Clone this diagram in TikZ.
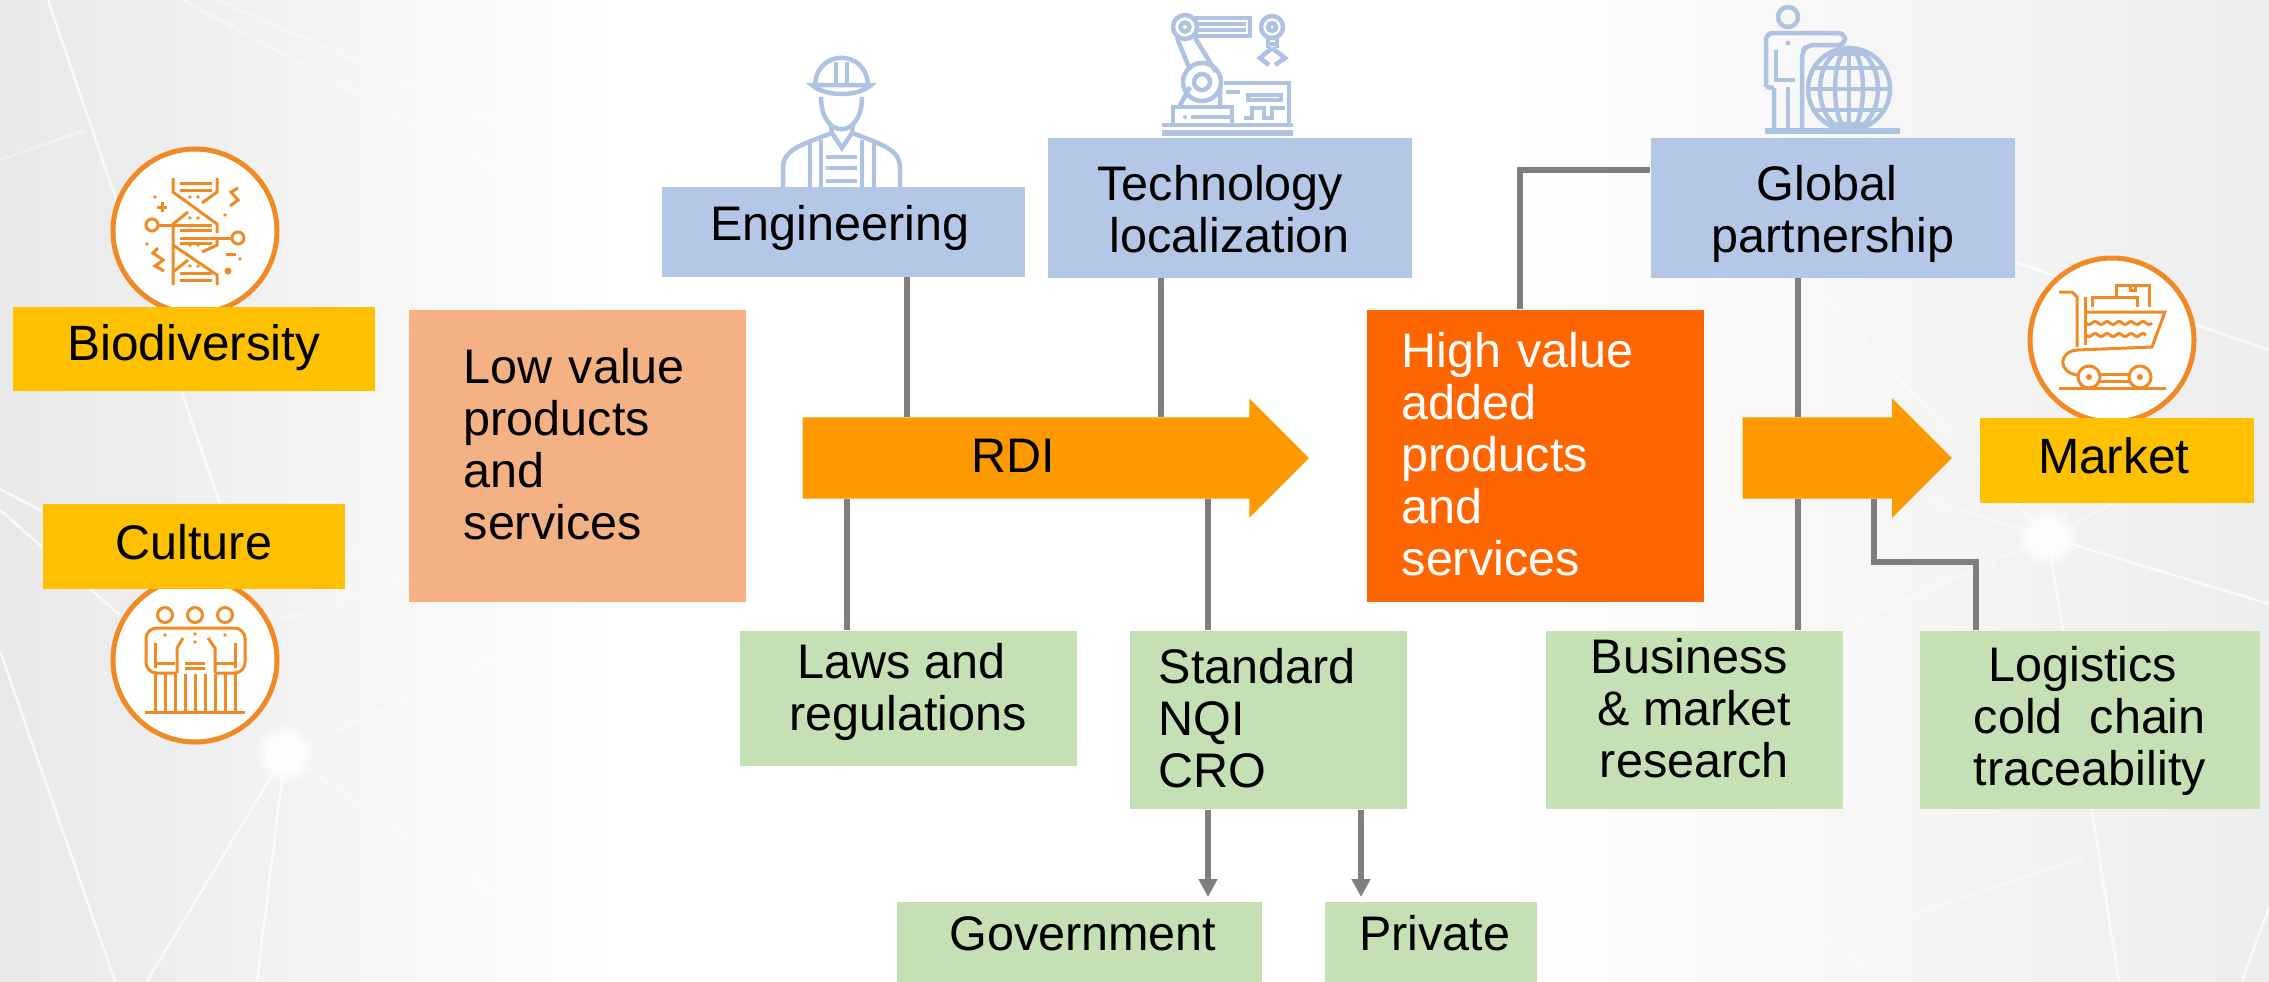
\documentclass[tikz,border=0pt]{standalone}
\usepackage{fontspec}
\setmainfont{Liberation Sans}
\usetikzlibrary{shapes.arrows, arrows.meta, positioning}

\definecolor{goldFill}{HTML}{FFC000}
\definecolor{blueFill}{HTML}{B4C7E7}
\definecolor{greenFill}{HTML}{C5E0B4}
\definecolor{lowFill}{HTML}{F4B183}
\definecolor{highFill}{HTML}{FF6600}
\definecolor{arrowFill}{HTML}{FF9900}
\definecolor{linkGray}{HTML}{7F7F7F}
\definecolor{iconOrange}{HTML}{F08A24}
\definecolor{iconBlue}{HTML}{AEC2E2}

\begin{document}
\begin{tikzpicture}[
      x=0.01cm, y=-0.01cm,
      font=\fontsize{13.8}{14.76}\selectfont,
      >=Stealth,
      block/.style n args={3}{rectangle, inner sep=0pt, align=center,
        minimum width=#1, text height=#2, text depth=#3},
      gold/.style    = {fill=goldFill},
      blue/.style    = {fill=blueFill},
      green/.style   = {fill=greenFill},
      flow/.style    = {single arrow, fill=arrowFill, inner sep=0pt,
        single arrow head extend=0.19cm, single arrow head indent=0pt,
        minimum width=1.18cm, anchor=tail},
      link/.style    = {draw=linkGray, line width=0.06cm},
      drop/.style    = {link, -{Triangle[length=0.18cm,width=0.18cm]},
        shorten >=0.04cm},
      ring/.style    = {draw=iconOrange, fill=white, line width=0.05cm},
      orangeIcon/.style = {draw=iconOrange, line width=0.03cm},
      blueIcon/.style   = {draw=iconBlue, line width=0.045cm},
      web/.style     = {draw=white, line width=0.025cm, opacity=0.7},
      faintWeb/.style = {draw=white, line width=0.03cm, opacity=0.35}
    ]

    % ---------------- background ----------------
    \useasboundingbox (0,0) rectangle (2269,981);
    \begin{scope}
      \clip (0,0) rectangle (2269,981);
      \fill[white] (0,0) rectangle (2269,981);
      \shade[left color=black!9, right color=white] (0,0) rectangle (620,981);
      \shade[left color=white, right color=black!7] (1500,0) rectangle (2269,981);
      \draw[web] (48,0) -- (222,510);
      \draw[web] (0,651) -- (115,981);
      \draw[web] (285,754) -- (147,981);
      \draw[web] (285,754) -- (257,981);
      \draw[faintWeb] (285,754) -- (625,981);
      \draw[faintWeb] (285,754) -- (620,600);
      \draw[faintWeb] (280,620) -- (406,578);
      \draw[faintWeb] (340,561) -- (400,524);
      \draw[web] (0,489) -- (42,511);
      \draw[web] (0,510) -- (120,615);
      \draw[faintWeb] (183,0) -- (520,182) -- (700,290);
      \draw[faintWeb] (217,0) -- (520,133);
      \draw[faintWeb] (0,160) -- (85,130);
      \draw[web] (2048,537) -- (2269,604);
      \draw[web] (2048,537) -- (2119,981);
      \draw[web] (2269,907) -- (2242,981);
      \draw[web] (2015,262) -- (2269,350);
      \draw[faintWeb] (2048,537) -- (1807,280);
      \draw[faintWeb] (2048,537) -- (1927,500);
      \draw[faintWeb] (2048,537) -- (2120,500);
      \draw[faintWeb] (2048,537) -- (1680,700);
      \draw[faintWeb] (1749,877) -- (1882,981);
      \draw[faintWeb] (2082,857) -- (1916,913);
      \foreach \glowX/\glowY in {285/754, 2048/537}{
        \fill[white, opacity=0.25] (\glowX,\glowY) circle (29);
        \fill[white, opacity=0.4] (\glowX,\glowY) circle (24);
        \fill[white, opacity=0.7] (\glowX,\glowY) circle (19);
      }
    \end{scope}

    % ---------------- orange icons ----------------
    \draw[ring] (195,231) circle (82);
    \draw[ring] (195,660) circle (82);
    \draw[ring] (2112,340) circle (82);

    % dna
    \draw[orangeIcon] (173,178) -- (173,192) -- (217,224) -- (217,233);
    \draw[orangeIcon] (217,178) -- (217,192) -- (202,203);
    \draw[orangeIcon] (188,212) -- (173,224) -- (173,285);
    \draw[orangeIcon] (173,245) -- (217,275) -- (217,285);
    \draw[orangeIcon] (217,238) -- (217,245) -- (202,252);
    \draw[orangeIcon] (188,260) -- (173,272);
    \foreach \rungY in {183,190,230,243,273,280}{
      \draw[orangeIcon] (180,\rungY) -- (212,\rungY);
    }
    \draw[orangeIcon] (158,225) -- (212,225);
    \draw[orangeIcon] (180,238) -- (232,238);
    \draw[orangeIcon] (152,225) circle (6);
    \draw[orangeIcon] (238,238) circle (6);
    \draw[orangeIcon] (157,207) -- (167,207) (162,202) -- (162,212);
    \draw[orangeIcon] (238,188) -- (231,192) -- (238,200) -- (230,206);
    \draw[orangeIcon] (158,248) -- (153,253) -- (163,260) -- (155,266) -- (164,271);
    \draw[orangeIcon] (226,254) -- (236,254);
    \foreach \dotX/\dotY in {190/197, 198/197, 190/218, 198/218, 190/245, 198/245,
      190/266, 198/266, 155/197, 225/215, 147/244, 240/259}{
      \fill[iconOrange] (\dotX,\dotY) circle (1.8);
    }
    \fill[iconOrange] (228,271) circle (3.5);

    % people
    \foreach \headX in {165,195,225}{
      \draw[orangeIcon] (\headX,615) circle (7.5);
    }
    \draw[orangeIcon, rounded corners=3pt] (177,673) -- (146,673) -- (146,628)
    -- (245,628) -- (245,673) -- (215,673);
    \draw[orangeIcon] (155,643) -- (155,668) (235,643) -- (235,668);
    \draw[orangeIcon] (155,663) -- (175,663) (215,663) -- (235,663);
    \draw[orangeIcon] (185,663) -- (205,663) (185,668) -- (205,668);
    \draw[orangeIcon] (177,673) -- (177,648) -- (183,638);
    \draw[orangeIcon] (215,673) -- (215,648) -- (208,638);
    \foreach \legX in {155,165,175,185,195,205,215,225,235}{
      \draw[orangeIcon] (\legX,674) -- (\legX,712);
    }
    \draw[orangeIcon] (145,712) -- (245,712);
    \foreach \dotX/\dotY in {165/635, 225/635, 195/634, 195/642}{
      \fill[iconOrange] (\dotX,\dotY) circle (1.8);
    }

    % cart
    \draw[orangeIcon] (2059,292) -- (2072,292) -- (2077,297) -- (2077,347);
    \draw[orangeIcon] (2085,312) -- (2165,312) -- (2152,347) -- (2077,350)
    .. controls (2058,352) and (2058,372) .. (2077,375);
    \draw[orangeIcon] (2085,297) -- (2085,345);
    \draw[orangeIcon] (2059,388) -- (2166,388);
    \draw[orangeIcon] (2089,377) circle (11);
    \draw[orangeIcon] (2140,377) circle (11);
    \fill[iconOrange] (2089,377) circle (3);
    \fill[iconOrange] (2140,377) circle (3);
    \draw[orangeIcon] (2100,374) -- (2129,374) (2100,381) -- (2129,381);
    \draw[orangeIcon] plot[domain=0:66, samples=40] ({2086+\x},{323+1.5*sin(\x*30)});
    \draw[orangeIcon] plot[domain=0:60, samples=40] ({2086+\x},{335+1.5*sin(\x*30)});
    \draw[orangeIcon] (2092,307) -- (2092,297) -- (2137,297) -- (2137,307);
    \draw[orangeIcon] (2116,297) -- (2116,285) -- (2149,285) -- (2149,307);
    \draw[orangeIcon] (2130,285) -- (2130,290) -- (2135,290) -- (2135,285);

    % ---------------- blue icons ----------------
    % engineer
    \draw[blueIcon] (815,87) .. controls (815,48) and (868,48) .. (868,87);
    \draw[blueIcon] (812,85) .. controls (825,97) and (858,97) .. (871,85) -- cycle;
    \draw[blueIcon] (836,62) -- (836,85) (847,62) -- (847,85);
    \draw[blueIcon] (821,97) .. controls (821,140) and (862,140) .. (862,97);
    \draw[blueIcon] (831,125) -- (832,133) -- (842,148) -- (852,133) -- (853,125);
    \draw[blueIcon] (832,133) .. controls (800,145) and (783,150) .. (783,168) -- (783,190);
    \draw[blueIcon] (852,133) .. controls (884,145) and (900,150) .. (900,168) -- (900,190);
    \foreach \vestX in {810,821,862,874}{
      \draw[blueIcon] (\vestX,140) -- (\vestX,190);
    }
    \foreach \vestY in {157,168,181}{
      \draw[blueIcon] (826,\vestY) -- (857,\vestY);
    }

    % robot
    \draw[blueIcon, line width=0.06cm] (1162,133) -- (1293,133);
    \draw[blueIcon] (1162,125) -- (1293,125);
    \draw[blueIcon] (1173,125) -- (1173,107) -- (1232,107) -- (1232,125);
    \draw[blueIcon] (1191,117) -- (1230,117);
    \fill[iconBlue] (1185,117) circle (2);
    \draw[blueIcon] (1224,83) -- (1289,83) -- (1289,125);
    \draw[blueIcon] (1226,92) -- (1240,92);
    \draw[blueIcon] (1248,95) rectangle (1281,100);
    \draw[blueIcon] (1244,118) -- (1252,118) -- (1252,108) -- (1264,108) -- (1264,118)
    -- (1272,118) -- (1272,108) -- (1285,108);
    \draw[blueIcon] (1202,82) circle (19);
    \draw[blueIcon] (1202,82) circle (8);
    \draw[blueIcon] (1179,107) -- (1190,87) (1220,107) -- (1220,88);
    \draw[blueIcon] (1177,38) -- (1190,70) (1195,38) -- (1216,72);
    \draw[blueIcon] (1185,27) circle (12);
    \draw[blueIcon] (1185,27) circle (4.5);
    \draw[blueIcon] (1195,18) -- (1250,18) -- (1250,36) -- (1195,36);
    \draw[blueIcon] (1197,24) -- (1246,24) (1197,30) -- (1246,30);
    \draw[blueIcon] (1272,27) circle (11);
    \draw[blueIcon] (1272,27) circle (4);
    \draw[blueIcon] (1268,38) -- (1268,48) (1277,38) -- (1277,48) (1268,44) -- (1277,44);
    \draw[blueIcon] (1272,48) -- (1260,58) -- (1269,65);
    \draw[blueIcon] (1272,48) -- (1285,58) -- (1275,65);

    % partner with globe
    \draw[blueIcon] (1788,17) circle (10);
    \draw[blueIcon, rounded corners=2pt] (1766,87) -- (1766,33) -- (1845,33) -- (1845,45)
    -- (1807,45) -- (1802,52) -- (1802,130);
    \draw[blueIcon] (1774,88) -- (1774,130) (1766,87) -- (1774,88);
    \draw[blueIcon] (1776,50) -- (1776,80) -- (1795,80);
    \draw[blueIcon] (1788,87) -- (1788,130);
    \fill[iconBlue] (1788,43) circle (2.5);
    \draw[blueIcon] (1849,89) circle (41);
    \draw[blueIcon] (1849,89) ellipse (14 and 41);
    \draw[blueIcon] (1849,89) ellipse (29 and 41);
    \draw[blueIcon] (1849,48) -- (1849,130);
    \draw[blueIcon] (1808,89) -- (1890,89);
    \draw[blueIcon] (1814,68) -- (1884,68) (1814,110) -- (1884,110);
    \draw[blueIcon] (1827,54) -- (1871,54) (1827,124) -- (1871,124);
    \draw[blueIcon, line width=0.06cm] (1765,131) -- (1900,131);

    % ---------------- left column ----------------
    \node[block={3.62cm}{0.54cm}{0.30cm}, gold, anchor=north west,
    font=\fontsize{14.1}{14.76}\selectfont] (bio) at (12,306) {Biodiversity};
    \node[block={3.02cm}{0.55cm}{0.30cm}, gold, below=1.12cm of bio] (culture)
    {Culture};

    % ---------------- value boxes ----------------
    \node[block={3.37cm}{0.74cm}{2.18cm}, fill=lowFill, text width=2.27cm,
    align=left, anchor=north west] (low) at (408,309)
    {Low value\\products\\and\\services};
    \node[block={3.37cm}{0.58cm}{2.34cm}, fill=highFill, text=white, text width=2.67cm,
    align=left, anchor=north west] (high) at (1366,309)
    {High value\\added\\products\\and\\services};

    % ---------------- top row ----------------
    \node[block={3.63cm}{0.54cm}{0.36cm}, blue, anchor=north west] (eng) at (661,186)
    {\hspace*{-0.07cm}Engineering};
    \node[block={3.64cm}{1.15cm}{0.25cm}, blue, anchor=north west] (tech) at (1047,137)
    {\hspace*{-0.19cm}Technology\\localization};
    \node[block={3.64cm}{1.15cm}{0.25cm}, blue, anchor=north west] (global) at (1650,137)
    {\hspace*{-0.12cm}Global\\partnership};

    % ---------------- flow arrows and market ----------------
    \node[flow, minimum height=5.06cm, text height=0.54cm, text depth=0.26cm] (rdi)
    at (802,458) {\hspace*{-0.44cm}RDI};
    \node[flow, minimum height=2.09cm, text height=0.4cm, text depth=0.4cm] (toMarket)
    at (1742,458) {};
    \node[block={2.74cm}{0.56cm}{0.29cm}, gold, anchor=north west,
    font=\fontsize{14.1}{14.76}\selectfont] (market) at (1979,417)
    {\hspace*{-0.06cm}Market};

    % ---------------- green row ----------------
    \node[block={3.37cm}{1.00cm}{0.35cm}, green, anchor=north west] (laws) at (739,630)
    {\hspace*{-0.14cm}Laws and\\regulations};
    \node[block={2.77cm}{0.53cm}{1.25cm}, green, text width=2.19cm, align=left,
    anchor=north west] (std) at (1129,630) {Standard\\NQI\\CRO};
    \node[block={2.97cm}{1.47cm}{0.31cm}, green, anchor=north west] (biz) at (1545,630)
    {\hspace*{-0.1cm}Business\\\& market\\research};
    \node[block={3.40cm}{1.55cm}{0.23cm}, green, anchor=north west] (logi) at (1919,630)
    {\hspace*{-0.14cm}Logistics\\cold\ \ chain\\traceability};
    \node[block={3.65cm}{0.49cm}{0.31cm}, green, anchor=north west] (gov) at (896,901)
    {\hspace*{0.07cm}Government};
    \node[block={2.12cm}{0.49cm}{0.31cm}, green, right=0.62cm of gov] (private)
    {\hspace*{0.07cm}Private};

    % ---------------- connectors ----------------
    \coordinate (engTap)  at (907,0);
    \coordinate (techTap) at (1161,0);
    \coordinate (lawsTap) at (847,0);
    \coordinate (stdTap)  at (1208,0);
    \coordinate (privTap) at (1361,0);
    \coordinate (globalTap) at (1798,0);
    \coordinate (highBend)  at (1520,170);
    \coordinate (logiBendA) at (1874,562);
    \coordinate (logiBendB) at (1976,562);

    \draw[link] (eng.south -| engTap) -- (rdi.north -| engTap);
    \draw[link] (tech.south -| techTap) -- (rdi.north -| techTap);
    \draw[link] (rdi.south -| lawsTap) -- (laws.north -| lawsTap);
    \draw[link] (rdi.south -| stdTap) -- (std.north -| stdTap);

    \draw[drop] (std.south -| stdTap) -- (gov.north -| stdTap);
    \draw[drop] (std.south -| privTap) -- (private.north -| privTap);

    \draw[link] (global.west |- highBend) -| (high.north -| highBend);
    \draw[link] (global.south -| globalTap) -- (toMarket.north -| globalTap);
    \draw[link] (toMarket.south -| globalTap) -- (biz.north -| globalTap);
    \draw[link] (toMarket.south -| logiBendA) -- (logiBendA) -- (logiBendB)
    -- (logi.north -| logiBendB);

  \end{tikzpicture}
\end{document}
